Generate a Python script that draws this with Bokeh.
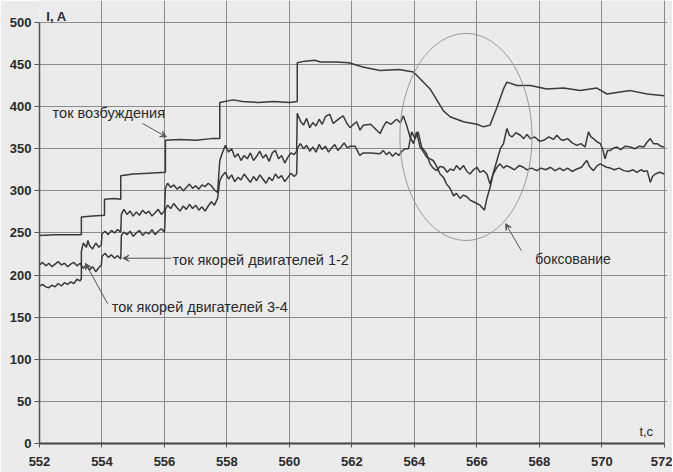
from bokeh.plotting import figure
from bokeh.models import Label, Arrow, VeeHead, FixedTicker, Range1d
from bokeh.embed import file_html
from bokeh.resources import INLINE

# ---------------- data ----------------
t_field = [552.0, 552.5, 553.0, 553.34, 553.34, 553.7, 554.08, 554.08, 554.4, 554.6, 554.6,
           555.0, 555.5, 556.03, 556.03, 556.5, 557.0, 557.5, 557.77, 557.77, 558.2, 558.5,
           559.0, 559.5, 560.0, 560.25, 560.25, 560.5, 560.8, 561.0, 561.5, 561.9, 562.35,
           562.9, 563.5, 563.97, 564.5, 564.93, 565.14, 565.57, 566.0, 566.21, 566.42,
           566.64, 566.85, 566.96, 567.28, 567.71, 568.24, 568.77, 569.31, 569.84, 570.16,
           570.91, 571.45, 572.0]
i_field = [247, 248, 248, 248, 269, 270, 271, 290, 291, 290, 318,
           320, 321, 322, 360, 361, 360, 362, 362, 405, 408, 406,
           405, 406, 405, 406, 452, 454, 455, 453, 453, 452, 447,
           443, 444, 441, 421, 395, 388, 382, 379, 376, 378,
           399, 421, 429, 425, 425, 421, 422, 419, 422, 415,
           419, 415, 413]

t_arm_a = [552.0, 552.1, 552.2, 552.3, 552.4, 552.5, 552.6, 552.7, 552.8, 552.9, 553.0, 553.1,
           553.2, 553.3, 553.34, 553.34, 553.4, 553.5, 553.55, 553.6, 553.7, 553.8, 553.9,
           553.98, 554.0, 554.1, 554.2, 554.3, 554.4, 554.5, 554.6, 554.62, 554.7, 554.8,
           554.9, 555.0, 555.1, 555.2, 555.3, 555.4, 555.5, 555.6, 555.7, 555.8, 555.9, 556.0,
           556.03, 556.1, 556.2, 556.3, 556.4, 556.5, 556.6, 556.7, 556.8, 556.9, 557.0, 557.1,
           557.2, 557.3, 557.4, 557.5, 557.6, 557.7, 557.77, 557.85, 557.95, 558.05, 558.15,
           558.25, 558.35, 558.45, 558.55, 558.65, 558.75, 558.85, 558.95, 559.05, 559.15,
           559.25, 559.35, 559.45, 559.55, 559.65, 559.75, 559.85, 559.95, 560.05, 560.15,
           560.23, 560.25, 560.35, 560.45, 560.55, 560.65, 560.75, 560.85, 560.95, 561.05,
           561.15, 561.29, 561.4, 561.5, 561.6, 561.72, 561.84, 561.94, 562.05, 562.15, 562.26,
           562.36, 562.6, 562.9, 563.0, 563.1, 563.25, 563.43, 563.55, 563.65, 563.75, 563.86,
           563.97, 564.07, 564.18, 564.28, 564.39, 564.5, 564.6, 564.7, 564.82, 564.93, 565.03,
           565.14, 565.25, 565.35, 565.46, 565.57, 565.68, 565.78, 565.89, 566.0, 566.1, 566.24,
           566.32, 566.42, 566.53, 566.64, 566.75, 566.85, 566.96, 567.04, 567.12, 567.25,
           567.39, 567.5, 567.6, 567.71, 567.85, 568.0, 568.14, 568.3, 568.45, 568.56, 568.68,
           568.77, 568.9, 569.05, 569.2, 569.33, 569.46, 569.57, 569.65, 569.73, 569.85, 569.95,
           570.03, 570.1, 570.18, 570.27, 570.38, 570.48, 570.6, 570.75, 570.91, 571.05, 571.2,
           571.34, 571.45, 571.55, 571.65, 571.77, 571.88, 572.0]
i_arm_a = [187, 189, 186, 185, 188, 186, 190, 187, 191, 189, 192, 190,
           195, 193, 196, 228, 238, 233, 241, 235, 231, 238, 233,
           236, 249, 252, 248, 253, 250, 254, 251, 272, 278, 272,
           276, 270, 275, 271, 277, 273, 276, 270, 274, 278, 272, 276,
           303, 309, 304, 307, 302, 305, 300, 304, 308, 303, 306, 302,
           307, 305, 309, 306, 301, 298, 336, 345, 354, 346, 350,
           340, 344, 336, 342, 338, 345, 336, 341, 347, 339,
           343, 335, 345, 348, 338, 342, 333, 340, 345, 343,
           347, 392, 383, 378, 386, 375, 381, 377, 385, 379,
           388, 391, 380, 383, 386, 389, 380, 375, 379, 382, 372,
           378, 379, 368, 376, 382, 379, 385, 381, 389, 378, 364,
           356, 370, 352, 347, 340, 338, 336, 330, 320, 316, 308,
           303, 294, 297, 291, 295, 293, 289, 287, 285, 283, 277,
           291, 304, 322, 336, 350, 356, 374, 366, 364, 369,
           366, 362, 367, 362, 364, 359, 360, 364, 361, 366, 361,
           360, 362, 357, 354, 356, 352, 370, 364, 362, 358, 356,
           349, 338, 348, 348, 351, 352, 349, 353, 352, 350, 353,
           352, 358, 362, 356, 356, 353, 352]

t_arm_b = [552.0, 552.1, 552.2, 552.3, 552.4, 552.5, 552.6, 552.7, 552.8, 552.9, 553.0, 553.1,
           553.2, 553.3, 553.4, 553.5, 553.6, 553.7, 553.8, 553.9, 553.98, 554.0, 554.1, 554.2,
           554.3, 554.4, 554.5, 554.6, 554.62, 554.7, 554.8, 554.9, 555.0, 555.1, 555.2, 555.3,
           555.4, 555.5, 555.6, 555.7, 555.8, 555.9, 556.0, 556.03, 556.1, 556.2, 556.3, 556.4,
           556.5, 556.6, 556.7, 556.8, 556.9, 557.0, 557.1, 557.2, 557.3, 557.4, 557.5, 557.6,
           557.7, 557.77, 557.85, 557.95, 558.05, 558.15, 558.25, 558.35, 558.45, 558.55,
           558.65, 558.75, 558.85, 558.95, 559.05, 559.15, 559.25, 559.35, 559.45, 559.55,
           559.65, 559.75, 559.85, 559.95, 560.05, 560.15, 560.23, 560.25, 560.35, 560.45,
           560.55, 560.65, 560.75, 560.85, 560.95, 561.05, 561.15, 561.25, 561.35, 561.45,
           561.55, 561.65, 561.75, 561.85, 561.95, 562.1, 562.25, 562.36, 562.6, 562.9, 563.0,
           563.1, 563.2, 563.3, 563.4, 563.5, 563.6, 563.7, 563.81, 563.91, 564.02, 564.12,
           564.23, 564.31, 564.39, 564.5, 564.6, 564.71, 564.82, 564.93, 565.05, 565.15, 565.25,
           565.35, 565.46, 565.57, 565.68, 565.78, 565.89, 566.0, 566.1, 566.21, 566.32, 566.42,
           566.5, 566.58, 566.66, 566.74, 566.85, 566.95, 567.06, 567.2, 567.35, 567.49, 567.6,
           567.75, 567.92, 568.05, 568.2, 568.35, 568.5, 568.65, 568.77, 568.9, 569.05, 569.2,
           569.35, 569.45, 569.52, 569.6, 569.73, 569.85, 569.95, 570.05, 570.15, 570.27, 570.4,
           570.55, 570.7, 570.85, 571.0, 571.12, 571.25, 571.35, 571.45, 571.55, 571.62, 571.71,
           571.85, 572.0]
i_arm_b = [212, 215, 211, 214, 210, 213, 216, 212, 214, 210, 213, 215,
           211, 214, 208, 212, 206, 210, 204, 209, 212, 222, 226, 221,
           224, 220, 223, 219, 247, 251, 248, 252, 246, 250, 253, 247,
           251, 249, 254, 248, 252, 255, 251, 278, 283, 279, 285, 280,
           276, 282, 278, 284, 279, 283, 277, 281, 276, 282, 287, 283,
           291, 312, 318, 322, 314, 319, 311, 316, 313, 320,
           315, 310, 317, 312, 319, 314, 309, 316, 312, 320,
           315, 318, 311, 316, 321, 317, 320, 350, 356, 350,
           354, 347, 352, 346, 355, 349, 353, 346, 351, 355,
           348, 352, 357, 351, 353, 353, 342, 345, 345, 344, 348,
           343, 346, 341, 345, 342, 347, 350, 350, 370, 362, 370,
           352, 348, 344, 332, 327, 324, 329, 328, 322, 326, 324,
           330, 325, 330, 323, 320, 325, 328, 322, 324, 320, 308,
           318, 324, 329, 332, 327, 330, 328, 325, 330, 328, 325,
           327, 324, 327, 325, 328, 324, 327, 324, 327, 323, 326,
           328, 333, 336, 329, 324, 330, 332, 330, 328, 327, 325,
           327, 324, 323, 325, 322, 325, 323, 324, 310, 317, 320,
           322, 320]

x_ticks = [552, 554, 556, 558, 560, 562, 564, 566, 568, 570, 572]
y_ticks = [0, 50, 100, 150, 200, 250, 300, 350, 400, 450, 500]

lbl_axis_y = "I, A"
lbl_axis_x = "t,c"
lbl_field = "ток возбуждения"
lbl_arm12 = "ток якорей двигателей 1-2"
lbl_arm34 = "ток якорей двигателей 3-4"
lbl_slip = "боксование"

# ---------------- figure ----------------
BG = "#ebebeb"
INK = "#3a3a3a"
FONT = "Liberation Sans"
X0, X1 = x_ticks[0], x_ticks[-1]
Y0, Y1 = y_ticks[0], y_ticks[-1]

p = figure(width=672, height=472, output_backend="svg", toolbar_location=None,
           x_range=Range1d(X0, X1 + 0.1), y_range=Range1d(Y0, Y1 + 26),
           min_border_left=39, min_border_right=5, min_border_top=0, min_border_bottom=29)
p.background_fill_color = BG
p.border_fill_color = BG
p.outline_line_color = None

for ax in (p.xaxis[0], p.yaxis[0]):
    ax.major_label_text_font = FONT
    ax.major_label_text_font_size = "13px"
    ax.major_label_text_font_style = "bold"
    ax.major_label_text_color = "#2a2a2a"
    ax.minor_tick_line_color = None
    ax.major_tick_line_color = "#555555"
    ax.major_tick_in = 0

p.xaxis.ticker = FixedTicker(ticks=x_ticks)
p.yaxis.ticker = FixedTicker(ticks=y_ticks)
p.xaxis.bounds = (X0, X1)
p.yaxis.bounds = (Y0, Y1)
p.xaxis.axis_line_width = 2
p.xaxis.axis_line_color = "#444444"
p.yaxis.axis_line_width = 1.5
p.yaxis.axis_line_color = "#555555"
p.xaxis.major_label_standoff = 9
p.xaxis.major_tick_out = 4
p.yaxis.major_label_standoff = 3
p.yaxis.major_tick_out = 5

p.xgrid.ticker = FixedTicker(ticks=x_ticks)
p.ygrid.ticker = FixedTicker(ticks=y_ticks)
p.xgrid.bounds = (Y0, Y1)
p.ygrid.bounds = (X0, X1)
p.grid.grid_line_color = "#8c8c8c"
p.grid.grid_line_width = 1

p.line(t_field, i_field, line_color=INK, line_width=1.5)
p.line(t_arm_a, i_arm_a, line_color=INK, line_width=1.5)
p.line(t_arm_b, i_arm_b, line_color=INK, line_width=1.5)

p.ellipse(x=[565.65], y=[364], width=[4.23], height=[246],
          fill_color=None, line_color="#9a9a9a", line_width=1)

def add_label(x, y, text, bold=False, size="14.5px"):
    p.add_layout(Label(x=x, y=y, text=text, text_font=FONT, text_font_size=size,
                       text_color="#2a2a2a", text_baseline="middle",
                       text_font_style="bold" if bold else "normal"))

add_label(552.22, 507.5, lbl_axis_y, bold=True, size="13px")
add_label(571.2, 14, lbl_axis_x, size="13px")
add_label(552.42, 392, lbl_field)
add_label(556.26, 218, lbl_arm12)
add_label(554.31, 162, lbl_arm34)
add_label(567.87, 219, lbl_slip, size="14px")

def add_arrow(x0, y0, x1, y1):
    p.add_layout(Arrow(end=VeeHead(size=6, line_color="#555555", fill_color="#555555", line_width=1),
                       x_start=x0, y_start=y0, x_end=x1, y_end=y1,
                       line_color="#555555", line_width=1))

add_arrow(555.30, 380, 556.06, 364)
add_arrow(556.22, 220, 554.67, 220)
add_arrow(554.18, 166, 553.47, 214)
add_arrow(567.42, 229, 566.92, 261)

open("out.html", "w").write(file_html(p, INLINE))
